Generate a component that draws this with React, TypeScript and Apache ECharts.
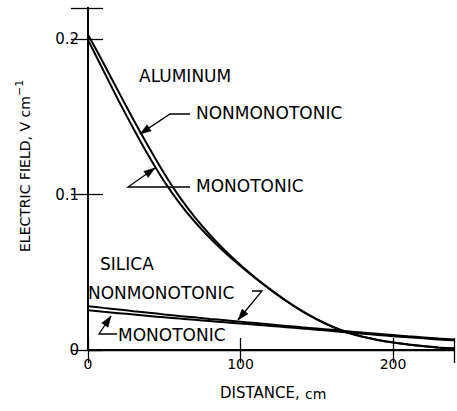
import React, { useEffect, useRef } from 'react';
import * as echarts from 'echarts';

// Distance along the sample, cm
const distance = [0, 10, 20, 30, 40, 50, 60, 70, 80, 90, 100, 110, 120, 130, 140, 150, 160, 170, 180, 190, 200, 210, 220, 230, 240];

// Electric field, V cm^-1
const aluminumNonmonotonic = [0.2028, 0.1848, 0.1662, 0.1478, 0.1302, 0.1135, 0.0985, 0.0855, 0.0741, 0.0639, 0.0547, 0.0463, 0.0387, 0.0316, 0.0253, 0.0198, 0.0151, 0.0114, 0.0086, 0.0065, 0.0049, 0.0036, 0.0025, 0.0016, 0.001];
const aluminumMonotonic = [0.1995, 0.18, 0.1605, 0.142, 0.1245, 0.1085, 0.0945, 0.0825, 0.072, 0.0625, 0.054, 0.046, 0.0385, 0.0315, 0.0252, 0.0197, 0.015, 0.0113, 0.0085, 0.0064, 0.0048, 0.0035, 0.0024, 0.0015, 0.0009];
const silicaNonmonotonic = [0.0282, 0.0271, 0.0261, 0.025, 0.024, 0.0229, 0.0219, 0.021, 0.02, 0.0191, 0.0182, 0.0173, 0.0164, 0.0155, 0.0146, 0.0138, 0.013, 0.0121, 0.0112, 0.0104, 0.0096, 0.0088, 0.0081, 0.0074, 0.0068];
const silicaMonotonic = [0.0256, 0.0246, 0.0237, 0.0228, 0.0219, 0.021, 0.0202, 0.0194, 0.0186, 0.0178, 0.017, 0.0163, 0.0155, 0.0147, 0.0139, 0.0131, 0.0122, 0.0113, 0.0105, 0.0097, 0.0089, 0.0082, 0.0075, 0.0068, 0.0062];

const xTickLabels = [0, 100, 200];
const yTickLabels = [0, 0.1, 0.2];

const FONT = '"DejaVu Sans", sans-serif';

function pairs(xs: number[], ys: number[]) {
  return xs.map((x, i) => [x, ys[i]]);
}

function arrowHead(tip: number[], from: number[], len = 11, half = 3.8) {
  const dx = tip[0] - from[0];
  const dy = tip[1] - from[1];
  const d = Math.sqrt(dx * dx + dy * dy);
  const ux = dx / d;
  const uy = dy / d;
  const bx = tip[0] - ux * len;
  const by = tip[1] - uy * len;
  return [
    [tip[0], tip[1]],
    [bx - uy * half, by + ux * half],
    [bx + uy * half, by - ux * half],
  ];
}

function leader(points: number[][]) {
  const tip = points[points.length - 1];
  const prev = points[points.length - 2];
  return [
    {
      type: 'polyline',
      shape: { points },
      style: { stroke: '#000', lineWidth: 1.3, fill: null },
    },
    {
      type: 'polygon',
      shape: { points: arrowHead(tip, prev) },
      style: { fill: '#000', stroke: '#000', lineWidth: 0.5 },
    },
  ];
}

function textStyle(text: string, size: number, align = 'left') {
  return {
    text,
    font: `${size}px ${FONT}`,
    fontSize: size,
    fontFamily: FONT,
    fill: '#000',
    align,
    textAlign: align,
    verticalAlign: 'middle',
    textVerticalAlign: 'middle',
  };
}

function label(text: string, x: number, y: number, size = 17) {
  return { type: 'text', x, y, style: textStyle(text, size) };
}

export default function App() {
  const ref = useRef<HTMLDivElement>(null);

  useEffect(() => {
    if (!ref.current) return;
    const chart = echarts.init(ref.current, undefined, { renderer: 'svg' });

    const lineSeries = (name: string, ys: number[]) => ({
      name,
      type: 'line',
      xAxisIndex: 0,
      yAxisIndex: 0,
      data: pairs(distance, ys),
      showSymbol: false,
      smooth: 0.2,
      lineStyle: { color: '#000', width: 2 },
      itemStyle: { color: '#000' },
      z: 3,
    });

    const axisCommon = {
      axisLine: { show: true, lineStyle: { color: '#000', width: 1.8 } },
      splitLine: { show: false },
    };

    const option: any = {
      animation: false,
      backgroundColor: '#fff',
      grid: { left: 88, top: 8, width: 376.8, height: 342, containLabel: false },
      xAxis: [
        {
          type: 'value',
          position: 'bottom',
          min: 0,
          max: 240,
          interval: 100,
          ...axisCommon,
          axisLine: { show: true, lineStyle: { color: '#000', width: 2 } },
          axisTick: { show: true, inside: true, length: 12, lineStyle: { color: '#000', width: 1.3 } },
          axisLabel: {
            margin: 7,
            color: '#000',
            fontSize: 14,
            fontFamily: FONT,
            formatter: (v: number) => (xTickLabels.includes(v) ? String(v) : ''),
          },
        },
        {
          type: 'value',
          position: 'top',
          min: 0,
          max: 240,
          interval: 100,
          ...axisCommon,
          axisLine: { show: true, lineStyle: { color: '#000', width: 1.4 } },
          axisTick: { show: true, inside: true, length: 13, lineStyle: { color: '#000', width: 1.3 } },
          axisLabel: { show: false },
        },
      ],
      yAxis: [
        {
          type: 'value',
          position: 'left',
          min: 0,
          max: 0.22,
          interval: 0.1,
          ...axisCommon,
          axisTick: { show: true, inside: true, length: 15, lineStyle: { color: '#000', width: 1.3 } },
          axisLabel: {
            margin: 9,
            color: '#000',
            fontSize: 15,
            fontFamily: FONT,
            formatter: (v: number) => {
              const hit = yTickLabels.find((t) => Math.abs(t - v) < 1e-9);
              return hit === undefined ? '' : String(hit);
            },
          },
        },
        {
          type: 'value',
          position: 'right',
          min: 0,
          max: 0.22,
          interval: 0.1,
          ...axisCommon,
          axisTick: { show: true, inside: true, length: 17, lineStyle: { color: '#000', width: 1.3 } },
          axisLabel: { show: false },
        },
      ],
      series: [
        lineSeries('Aluminum nonmonotonic', aluminumNonmonotonic),
        lineSeries('Aluminum monotonic', aluminumMonotonic),
        lineSeries('Silica nonmonotonic', silicaNonmonotonic),
        lineSeries('Silica monotonic', silicaMonotonic),
      ],
      graphic: [
        label('ALUMINUM', 139, 76),
        label('NONMONOTONIC', 196, 113),
        label('MONOTONIC', 196, 186),
        label('SILICA', 100, 264),
        label('NONMONOTONIC', 88, 293),
        label('MONOTONIC', 118, 335),
        ...leader([[190, 114], [170, 114], [140, 134]]),
        ...leader([[190, 187], [128, 187], [155, 168]]),
        ...leader([[252, 291], [262, 291], [238, 320]]),
        ...leader([[117, 334], [99, 334], [111, 316]]),
        { type: 'text', x: 220, y: 393, style: textStyle('DISTANCE,', 15) },
        { type: 'text', x: 305, y: 394, style: textStyle('cm', 14) },
        {
          type: 'group',
          x: 25,
          y: 168,
          rotation: Math.PI / 2,
          children: [
            { type: 'text', x: -84, y: 0, style: textStyle('ELECTRIC FIELD, V cm', 14) },
            { type: 'text', x: 72, y: -6, style: textStyle('−1', 11) },
          ],
        },
      ],
    };

    chart.setOption(option);
    return () => chart.dispose();
  }, []);

  return (
    <div
      ref={ref}
      style={{ position: 'fixed', left: 0, top: 0, width: 457, height: 411, background: '#fff' }}
    />
  );
}
